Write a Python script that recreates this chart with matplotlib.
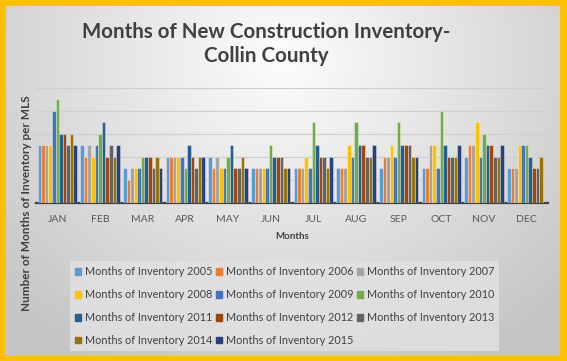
import numpy as np
import matplotlib
matplotlib.use("Agg")
import matplotlib.pyplot as plt
from matplotlib.patches import Patch

# Données (mois d'inventaire)
months = ["JAN", "FEB", "MAR", "APR", "MAY", "JUN", "JUL", "AUG", "SEP", "OCT", "NOV", "DEC"]
years = [2005, 2006, 2007, 2008, 2009, 2010, 2011, 2012, 2013, 2014, 2015]

inv_2005 = [5, 5, 3, 4, 4, 3, 3, 3, 3, 3, 4, 3]
inv_2006 = [5, 4, 2, 4, 3, 3, 3, 3, 4, 3, 5, 3]
inv_2007 = [5, 5, 3, 4, 4, 3, 3, 3, 4, 5, 5, 3]
inv_2008 = [5, 4, 3, 4, 3, 3, 4, 5, 5, 5, 7, 5]
inv_2009 = [8, 5, 3, 4, 3, 3, 3, 4, 4, 3, 4, 5]
inv_2010 = [9, 6, 4, 3, 4, 5, 7, 7, 7, 8, 6, 5]
inv_2011 = [6, 7, 4, 5, 5, 4, 5, 5, 5, 5, 5, 4]
inv_2012 = [6, 4, 4, 4, 3, 4, 4, 5, 5, 4, 5, 3]
inv_2013 = [5, 5, 3, 3, 3, 4, 4, 4, 5, 4, 4, 3]
inv_2014 = [6, 4, 4, 4, 4, 3, 3, 4, 4, 4, 4, 4]
inv_2015 = [5, 5, 3, 4, 3, 3, 4, 5, 4, 5, 5, np.nan]

series = [inv_2005, inv_2006, inv_2007, inv_2008, inv_2009, inv_2010,
          inv_2011, inv_2012, inv_2013, inv_2014, inv_2015]
colors = ["#5B9BD5", "#ED7D31", "#A5A5A5", "#FFC000", "#4472C4", "#70AD47",
          "#255E91", "#9E480E", "#636363", "#997300", "#264478"]

plt.rcParams["font.family"] = ["Lato", "DejaVu Sans"]

fig = plt.figure(figsize=(5.67, 3.61), dpi=100)
fig.patch.set_facecolor("#FFC000")

# Fond dégradé gris
bg = fig.add_axes([6 / 567, 5 / 361, 1 - 13 / 567, 1 - 11 / 361])
gx, gy = np.meshgrid(np.linspace(0, 1, 300), np.linspace(0, 1, 200))
dist = np.sqrt(((gx - 0.5) / 0.7) ** 2 + ((gy - 0.85) / 1.0) ** 2)
shade = 0.99 - 0.22 * np.clip(dist, 0, 1)
bg.imshow(shade, cmap="gray", vmin=0, vmax=1, extent=[0, 1, 0, 1],
          origin="lower", aspect="auto")
bg.axis("off")

ax = fig.add_axes([36 / 567, 1 - 203 / 361, 512 / 567, 115 / 361])
ax.set_facecolor("none")

x = np.arange(len(months))
w = 0.084
for i, (vals, c) in enumerate(zip(series, colors)):
    ax.bar(x + (i - 5) * w, vals, w, color=c, edgecolor=(1, 1, 1, 0.6),
           linewidth=0.4, zorder=3, label=f"Months of Inventory {years[i]}")

ax.set_xlim(-0.5, len(months) - 0.5)
ax.set_ylim(0, 10)
ax.set_yticks([0, 2, 4, 6, 8, 10])
ax.yaxis.grid(True, color="#cfcfcf", linewidth=0.9)
ax.set_axisbelow(True)
ax.tick_params(axis="y", left=False, labelleft=False)
ax.tick_params(axis="x", bottom=False, labelsize=7.5, labelcolor="#595959", pad=5)
ax.set_xticks(x)
ax.set_xticklabels(months)
for s in ["left", "right", "top"]:
    ax.spines[s].set_visible(False)
ax.spines["bottom"].set_color("#404040")
ax.spines["bottom"].set_linewidth(1.6)
ax.set_xlabel("Months", fontsize=7, fontweight="bold", color="#404040", labelpad=6)

fig.text(0.470, 0.878, "Months of New Construction Inventory-\nCollin County",
         ha="center", va="center", fontsize=14.8, fontweight="bold",
         color="#404040", linespacing=1.25)
fig.text(0.047, 0.438, "Number of Months of Inventory per MLS", rotation=90,
         ha="center", va="center", fontsize=8.5, fontweight="bold", color="#404040")

# Légende en lignes (ordre Excel)
order = [0, 3, 6, 9, 1, 4, 7, 10, 2, 5, 8]
handles = [Patch(color=colors[i], label=f"Months of Inventory {years[i]}") for i in order]
leg = fig.legend(handles=handles, ncol=3, loc="center", bbox_to_anchor=(0.502, 0.152),
                 fontsize=7.8, frameon=True, handlelength=0.55, handleheight=0.55,
                 handletextpad=0.4, columnspacing=0.3, labelspacing=1.1,
                 borderpad=0.45, borderaxespad=0, fancybox=False)
leg.get_frame().set_facecolor("#e2e2e2")
leg.get_frame().set_edgecolor("none")
for t in leg.get_texts():
    t.set_color("#404040")

plt.savefig("out.png", dpi=100, facecolor=fig.get_facecolor())
